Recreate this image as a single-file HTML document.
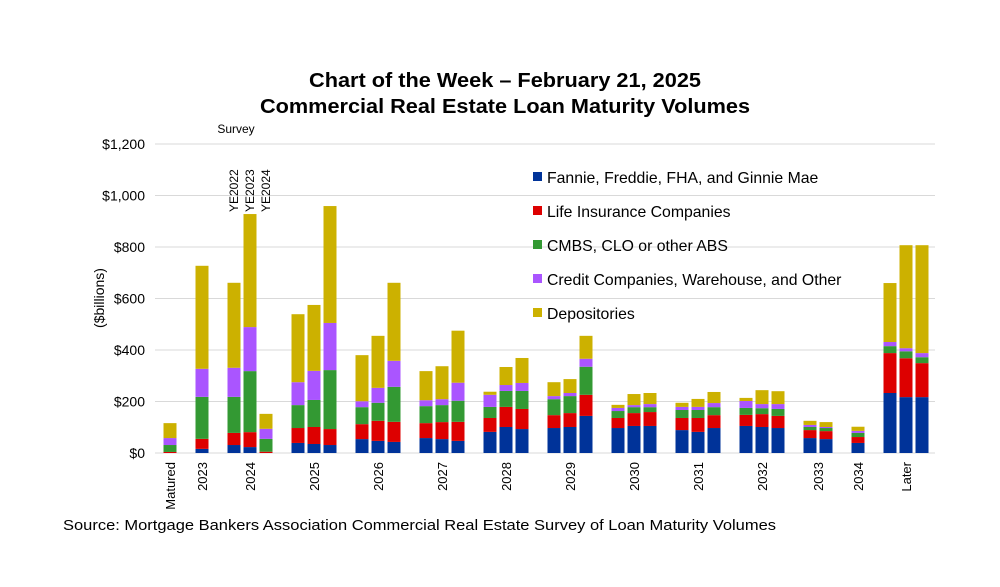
<!DOCTYPE html>
<html><head><meta charset="utf-8"><style>
html,body{margin:0;padding:0;background:#fff}
svg{display:block;font-family:"Liberation Sans",Arial,sans-serif}
</style></head><body>
<svg id="chart" width="1000" height="587" viewBox="0 0 1000 587">
<rect width="1000" height="587" fill="#fff"/>
<text x="505" y="87" text-anchor="middle" font-size="20" font-weight="bold" fill="#000" textLength="392" lengthAdjust="spacingAndGlyphs">Chart of the Week – February 21, 2025</text>
<text x="505" y="113" text-anchor="middle" font-size="20" font-weight="bold" fill="#000" textLength="490" lengthAdjust="spacingAndGlyphs">Commercial Real Estate Loan Maturity Volumes</text>
<text x="236" y="133" text-anchor="middle" font-size="12" fill="#000">Survey</text>
<text transform="translate(104,298) rotate(-90)" text-anchor="middle" font-size="14" fill="#000">($billions)</text>
<g id="grid"></g><g id="bars"></g><g id="labels"></g>
<g id="legend"></g>
<text x="63" y="530" font-size="15" fill="#000" textLength="713" lengthAdjust="spacingAndGlyphs">Source: Mortgage Bankers Association Commercial Real Estate Survey of Loan Maturity Volumes</text>
</svg>
<script>
const groups = ["Matured","2023","2024","2025","2026","2027","2028","2029","2030","2031","2032","2033","2034","Later"];
const groupSizes = [1,1,3,3,3,3,3,3,3,3,3,2,1,3];
const seriesNames = ["Fannie, Freddie, FHA, and Ginnie Mae","Life Insurance Companies","CMBS, CLO or other ABS","Credit Companies, Warehouse, and Other","Depositories"];
const agency = [0,16,31,23,0,39,35,31,54,47,43,58,54,47,82,101,93,97,101,144,97,105,105,89,82,97,105,101,97,58,54,39,233,217,217];
const life =   [4,39,47,58,5,58,66,62,58,78,78,58,66,74,54,78,78,50,54,82,39,50,54,47,54,50,43,50,47,31,31,23,155,151,132];
const cmbs =   [27,163,140,237,50,89,105,229,66,70,136,66,66,82,43,62,70,62,66,109,27,23,19,31,31,31,27,23,27,12,12,16,27,27,23];
const credit = [27,109,113,171,39,89,113,183,23,58,101,23,23,70,47,23,31,12,12,31,12,8,12,12,12,16,27,16,19,8,4,8,16,12,16];
const depos =  [58,400,330,439,58,264,256,454,179,202,303,113,128,202,12,70,97,54,54,89,12,43,43,16,31,43,12,54,50,16,19,16,229,400,419];
const yTicks = [0,200,400,600,800,1000,1200];
const yTickLabels = ["$0","$200","$400","$600","$800","$1,000","$1,200"];
const surveyLabels = ["YE2022","YE2023","YE2024"];
const colors = ["#003399","#dd0000","#339933","#aa55ff","#ccb100"];
const NS="http://www.w3.org/2000/svg";
const y0=453, yTop=144, yMax=1200;
function yScale(v){return y0-(v/yMax)*(y0-yTop);}
function xScale(slot){return 170+slot*16;}
const bw=13;
function mk(tag,attrs,parent){const e=document.createElementNS(NS,tag);for(const k in attrs)e.setAttribute(k,attrs[k]);parent.appendChild(e);return e;}
const grid=document.getElementById('grid');
yTicks.forEach((t,i)=>{
  const l=mk('line',{x1:155,x2:935,y1:yScale(t),y2:yScale(t),stroke:'#d9d9d9','stroke-width':1},grid);
  
  
  const tx=mk('text',{x:145,y:yScale(t)+5,'text-anchor':'end','font-size':14,fill:'#000'},grid);
  tx.textContent=yTickLabels[i];
  
  
});
const series=[agency,life,cmbs,credit,depos];
const barsG=document.getElementById('bars'), labG=document.getElementById('labels');
let slot=0, bi=0;
groups.forEach((g,gi)=>{
  const first=slot;
  for(let k=0;k<groupSizes[gi];k++){
    const cx=xScale(slot);
    let acc=0;
    series.forEach((s,si)=>{
      const v=s[bi];
      const r=mk('rect',{x:cx-bw/2,y:yScale(acc+v),width:bw,height:Math.max(0,yScale(acc)-yScale(acc+v)),fill:colors[si]},barsG);
      
      
      acc+=v;
    });
    if(g==="2024"){
      const t=mk('text',{transform:`translate(${cx+4},212) rotate(-90)`,'font-size':12,fill:'#000'},labG);
      t.textContent=surveyLabels[k];
      
      
    }
    slot++; bi++;
  }
  const mid=(xScale(first)+xScale(slot-1))/2;
  const t=mk('text',{transform:`translate(${mid+5},462) rotate(-90)`,'text-anchor':'end','font-size':13,fill:'#000'},labG);
  t.textContent=g;
  
  
  slot++;
});
const lg=document.getElementById('legend');
seriesNames.forEach((n,i)=>{
  const y=177+i*34;
  const r=mk('rect',{x:533,y:y-5,width:9,height:9,fill:colors[i]},lg);
  
  
  const t=mk('text',{x:547,y:y+6,'font-size':15.8,fill:'#000'},lg);
  t.textContent=n;
  
  
});
</script>
</body></html>
